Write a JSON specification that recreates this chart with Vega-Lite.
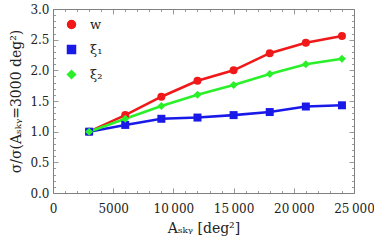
{
  "$schema": "https://vega.github.io/schema/vega-lite/v6.json",
  "width": 301,
  "height": 184,
  "autosize": {"type": "none"},
  "padding": {"left": 53, "top": 9, "right": 20, "bottom": 53},
  "config": {
    "font": "DejaVu Serif",
    "view": {"stroke": "#808080", "strokeWidth": 1},
    "axis": {
      "domain": false,
      "grid": false,
      "labelFont": "DejaVu Serif",
      "titleFont": "DejaVu Serif",
      "labelFontSize": 12,
      "titleFontSize": 14,
      "labelColor": "#222222",
      "titleColor": "#222222",
      "titleFontWeight": "normal",
      "tickColor": "#808080",
      "tickWidth": 0.8,
      "labelFlush": false
    },
    "legend": {"labelFont": "DejaVu Serif"}
  },
  "data": {
    "values": [
      {"x": 3000, "v": 1.0, "s": "w"},
      {"x": 6000, "v": 1.27, "s": "w"},
      {"x": 9000, "v": 1.57, "s": "w"},
      {"x": 12000, "v": 1.83, "s": "w"},
      {"x": 15000, "v": 2.0, "s": "w"},
      {"x": 18000, "v": 2.28, "s": "w"},
      {"x": 21000, "v": 2.45, "s": "w"},
      {"x": 24000, "v": 2.56, "s": "w"},
      {"x": 3000, "v": 1.0, "s": "ξ₁"},
      {"x": 6000, "v": 1.11, "s": "ξ₁"},
      {"x": 9000, "v": 1.21, "s": "ξ₁"},
      {"x": 12000, "v": 1.23, "s": "ξ₁"},
      {"x": 15000, "v": 1.27, "s": "ξ₁"},
      {"x": 18000, "v": 1.32, "s": "ξ₁"},
      {"x": 21000, "v": 1.41, "s": "ξ₁"},
      {"x": 24000, "v": 1.43, "s": "ξ₁"},
      {"x": 3000, "v": 1.0, "s": "ξ₂"},
      {"x": 6000, "v": 1.21, "s": "ξ₂"},
      {"x": 9000, "v": 1.42, "s": "ξ₂"},
      {"x": 12000, "v": 1.6, "s": "ξ₂"},
      {"x": 15000, "v": 1.76, "s": "ξ₂"},
      {"x": 18000, "v": 1.94, "s": "ξ₂"},
      {"x": 21000, "v": 2.1, "s": "ξ₂"},
      {"x": 24000, "v": 2.19, "s": "ξ₂"}
    ]
  },
  "layer": [
    {
      "mark": {"type": "line", "strokeWidth": 2.6},
      "encoding": {
        "x": {"field": "x", "type": "quantitative", "scale": {"domain": [0, 25000], "nice": false, "zero": false},
          "axis": {"orient": "bottom", "values": [0, 5000, 10000, 15000, 20000, 25000], "tickSize": -5, "labelPadding": 15,
            "labelExpr": "datum.value >= 10000 ? replace(format(datum.value, ','), ',', '\u2009') : format(datum.value, 'd')",
            "title": "Aₛₖᵧ [deg²]", "titlePadding": 7}},
        "y": {"field": "v", "type": "quantitative", "scale": {"domain": [0, 3], "nice": false, "zero": false},
          "axis": {"orient": "left", "values": [0, 0.5, 1, 1.5, 2, 2.5, 3], "tickSize": -5, "labelPadding": 9, "format": ".1f",
            "title": "σ/σ(Aₛₖᵧ=3000 deg²)", "titlePadding": 6}},
        "color": {"field": "s", "type": "nominal", "scale": {"domain": ["w", "ξ₁", "ξ₂"], "range": ["#f01818", "#1a1ae8", "#2af02a"]}}
      }
    },
    {
      "mark": {"type": "point", "filled": true, "size": 64, "opacity": 1},
      "encoding": {
        "x": {"field": "x", "type": "quantitative",
          "axis": {"orient": "bottom", "values": [1000,2000,3000,4000,6000,7000,8000,9000,11000,12000,13000,14000,16000,17000,18000,19000,21000,22000,23000,24000], "tickSize": -2.5, "labels": false, "title": null}},
        "y": {"field": "v", "type": "quantitative",
          "axis": {"orient": "left", "values": [0.1,0.2,0.3,0.4,0.6,0.7,0.8,0.9,1.1,1.2,1.3,1.4,1.6,1.7,1.8,1.9,2.1,2.2,2.3,2.4,2.6,2.7,2.8,2.9], "tickSize": -2.5, "labels": false, "title": null}},
        "color": {"field": "s", "type": "nominal",
          "legend": {"orient": "none", "legendX": 12, "legendY": 9, "title": null, "padding": 0, "symbolSize": 64, "labelFontSize": 13, "labelColor": "#222222", "rowPadding": 10, "labelOffset": 12}},
        "shape": {"field": "s", "type": "nominal", "scale": {"domain": ["w", "ξ₁", "ξ₂"], "range": ["circle", "square", "diamond"]},
          "legend": {"orient": "none", "legendX": 12, "legendY": 9, "title": null, "padding": 0, "symbolSize": 64, "labelFontSize": 13, "labelColor": "#222222", "rowPadding": 10, "labelOffset": 12}}
      }
    },
    {
      "mark": {"type": "point", "opacity": 0},
      "encoding": {
        "x": {"field": "x", "type": "quantitative",
          "axis": {"orient": "top", "values": [0, 5000, 10000, 15000, 20000, 25000], "tickSize": -5, "labels": false, "title": null}},
        "y": {"field": "v", "type": "quantitative",
          "axis": {"orient": "right", "values": [0, 0.5, 1, 1.5, 2, 2.5, 3], "tickSize": -5, "labels": false, "title": null}}
      }
    },
    {
      "mark": {"type": "point", "opacity": 0},
      "encoding": {
        "x": {"field": "x", "type": "quantitative",
          "axis": {"orient": "top", "values": [1000,2000,3000,4000,6000,7000,8000,9000,11000,12000,13000,14000,16000,17000,18000,19000,21000,22000,23000,24000], "tickSize": -2.5, "labels": false, "title": null}},
        "y": {"field": "v", "type": "quantitative",
          "axis": {"orient": "right", "values": [0.1,0.2,0.3,0.4,0.6,0.7,0.8,0.9,1.1,1.2,1.3,1.4,1.6,1.7,1.8,1.9,2.1,2.2,2.3,2.4,2.6,2.7,2.8,2.9], "tickSize": -2.5, "labels": false, "title": null}}
      }
    }
  ],
  "resolve": {"axis": {"x": "independent", "y": "independent"}}
}
